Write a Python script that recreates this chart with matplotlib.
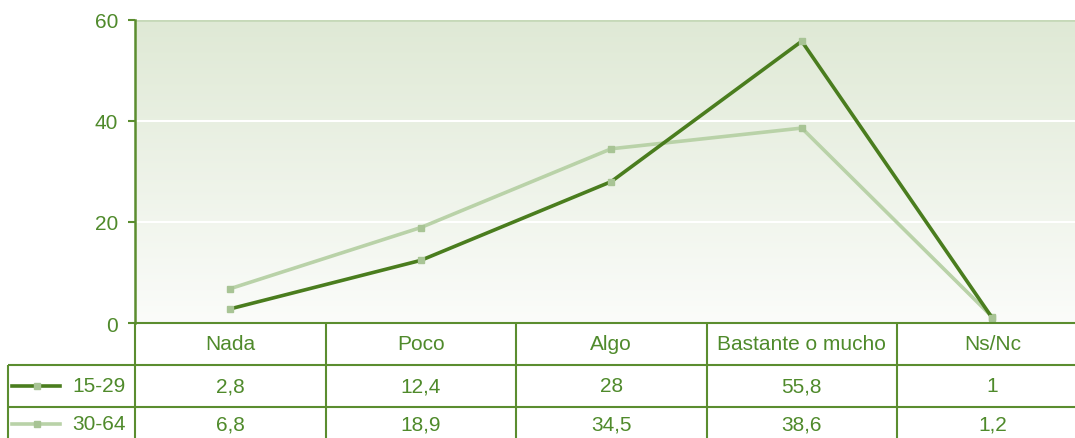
import numpy as np
from matplotlib import pyplot as plt
from matplotlib.lines import Line2D
from matplotlib.colors import LinearSegmentedColormap

categories = ['Nada', 'Poco', 'Algo', 'Bastante o mucho', 'Ns/Nc']
series_names = ['15-29', '30-64']
young = [2.8, 12.4, 28, 55.8, 1]
adult = [6.8, 18.9, 34.5, 38.6, 1.2]
young_labels = ['2,8', '12,4', '28', '55,8', '1']
adult_labels = ['6,8', '18,9', '34,5', '38,6', '1,2']
yticks = [0, 20, 40, 60]

W, H = 1075, 439
dark = '#4a7d1e'
light = '#b9d2a8'
marker_col = '#a8c495'
text_col = '#4f8a2b'
grid_col = '#5b8d2f'
fs = 15

plt.rcParams['font.family'] = ['Liberation Sans', 'DejaVu Sans']

fig = plt.figure(figsize=(W / 100, H / 100), dpi=100)

# plot area in pixel geometry
x0, x1 = 135, 1087.5
y_top, y_bot = 21, 324
ax = fig.add_axes([x0 / W, 1 - y_bot / H, (x1 - x0) / W, (y_bot - y_top) / H])

# gradient background
grad = np.linspace(0, 1, 256).reshape(-1, 1)
cmap = LinearSegmentedColormap.from_list('bg', ['#fbfcfa', '#dfe9d5'])
ax.imshow(grad, extent=[-0.5, 4.5, 0, 60], origin='lower', cmap=cmap,
          aspect='auto', zorder=0)

x = np.arange(len(categories))
for v in [20, 40]:
    ax.axhline(v, color='white', lw=1.5, zorder=1)
ax.axhline(60, color='#c6d9b8', lw=2, zorder=1)

ax.plot(x, adult, color=light, lw=2.6, marker='s', ms=5,
        mfc=marker_col, mec=marker_col, zorder=3, solid_joinstyle='miter')
ax.plot(x, young, color=dark, lw=2.6, marker='s', ms=5,
        mfc=marker_col, mec=marker_col, zorder=4, solid_joinstyle='miter')

ax.set_xlim(-0.5, 4.5)
ax.set_ylim(0, 60)
ax.set_yticks(yticks)
ax.set_yticklabels([str(t) for t in yticks], fontsize=fs, color=text_col)
ax.tick_params(axis='y', length=5, width=1.5, color=grid_col, pad=7)
ax.set_xticks([])
for s in ['top', 'right', 'bottom']:
    ax.spines[s].set_visible(False)
ax.spines['left'].set_color(grid_col)
ax.spines['left'].set_linewidth(1.8)

# data table below the plot
tab = fig.add_axes([0, 0, 1, 1])
tab.set_xlim(0, W)
tab.set_ylim(H, 0)
tab.axis('off')

col_w = (x1 - x0) / len(categories)
row_y = [324, 366, 408, 450]
lkw = dict(color=grid_col, lw=1.5, solid_capstyle='butt')
# horizontal lines
tab.plot([x0, W], [row_y[0]] * 2, **lkw)
for yy in row_y[1:3]:
    tab.plot([8, W], [yy, yy], **lkw)
# vertical lines
tab.plot([8, 8], [row_y[1], H], **lkw)
for i in range(len(categories) + 1):
    xx = x0 + i * col_w
    tab.plot([xx, xx], [row_y[0], H], **lkw)

for i, c in enumerate(categories):
    cx = x0 + (i + 0.5) * col_w
    tab.text(cx, (row_y[0] + row_y[1]) / 2, c, ha='center', va='center',
             fontsize=fs, color=text_col)
    tab.text(cx, (row_y[1] + row_y[2]) / 2, young_labels[i], ha='center',
             va='center', fontsize=fs, color=text_col)
    tab.text(cx, (row_y[2] + row_y[3]) / 2 - 4, adult_labels[i], ha='center',
             va='center', fontsize=fs, color=text_col)

for k, (name, col) in enumerate(zip(series_names, [dark, light])):
    cy = (row_y[k + 1] + row_y[k + 2]) / 2 - (4 if k == 1 else 0)
    tab.add_line(Line2D([12, 60], [cy, cy], color=col, lw=2.6))
    tab.add_line(Line2D([37], [cy], marker='s', ms=5, mfc=marker_col,
                        mec=marker_col))
    tab.text(126, cy, name, ha='right', va='center', fontsize=fs,
             color=text_col)

fig.savefig('out.png', dpi=100)
